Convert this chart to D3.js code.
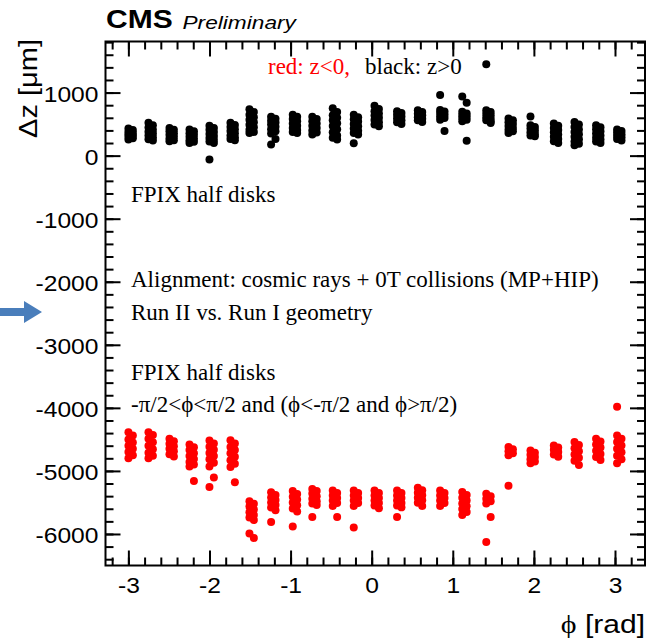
<!DOCTYPE html>
<html>
<head>
<meta charset="utf-8">
<script src="https://cdn.jsdelivr.net/npm/d3@7"></script>
<style>
html, body { margin: 0; padding: 0; background: #fff; }
svg { display: block; }
.axis line { stroke: #000; stroke-width: 2; }
.axis .domain { display: none; }
.sans { font-family: "Liberation Sans", Arial, sans-serif; }
.serif { font-family: "Liberation Serif", "Times New Roman", serif; }
</style>
</head>
<body>
<div id="chart"></div>
<script>
'use strict';

// tick labels
const xTicks = [-3, -2, -1, 0, 1, 2, 3];
const yTicks = [-6000, -5000, -4000, -3000, -2000, -1000, 0, 1000];

// each blade cluster: [phi (rad), dz left column (um), dz right column (um)]
const blackClusters = [
    [-2.972, [430, 380, 340, 300, 255], [405, 360, 320, 275]],
    [-2.725, [520, 445, 380, 320, 260], [480, 410, 350, 290, 238]],
    [-2.466, [440, 385, 330, 270, 228], [410, 355, 300, 245]],
    [-2.219, [415, 355, 300, 245, 200], [385, 330, 270, 220]],
    [-1.973, [472, 410, 345, 280, 225, -60], [440, 375, 310, 250, 200]],
    [-1.714, [520, 455, 390, 320, 265], [485, 420, 355, 290, 243]],
    [-1.480, [735, 650, 570, 490, 410, 360], [690, 610, 530, 450, 375]],
    [-1.213, [615, 555, 495, 420, 350, 175], [585, 525, 460, 385, 262]],
    [-0.946, [650, 580, 510, 440, 375], [615, 545, 475, 405, 360]],
    [-0.705, [615, 545, 475, 400, 335], [580, 510, 440, 365]],
    [-0.453, [750, 640, 560, 470, 370, 285], [690, 600, 515, 420, 320, 255]],
    [-0.194, [650, 575, 500, 430, 360, 197], [610, 540, 465, 395, 335]],
    [0.062, [792, 705, 635, 565, 495], [740, 670, 600, 530, 465]],
    [0.340, [705, 650, 590, 530], [675, 620, 560, 502]],
    [0.596, [720, 665, 610, 560], [690, 640, 585, 535]],
    [0.871, [963, 725, 675, 620, 570], [700, 650, 595, 392]],
    [1.144, [937, 695, 645, 595, 545], [840, 670, 620, 570, 235]],
    [1.440, [1451, 720, 665, 610, 560], [690, 640, 585, 540, 518]],
    [1.714, [588, 530, 470, 410, 360], [560, 500, 440, 385]],
    [1.985, [619, 482, 430, 370, 320], [455, 400, 345, 307]],
    [2.273, [510, 440, 370, 300, 230], [475, 405, 335, 265, 200]],
    [2.528, [535, 455, 375, 300, 225, 165], [495, 415, 340, 260, 190]],
    [2.794, [482, 420, 350, 285, 225], [450, 385, 320, 255, 200]],
    [3.053, [415, 365, 315, 262], [390, 340, 290, 238]]
];

const redClusters = [
    [-2.972, [-4385, -4500, -4600, -4700, -4800], [-4440, -4550, -4650, -4750]],
    [-2.725, [-4385, -4490, -4600, -4710, -4800], [-4430, -4545, -4655, -4760]],
    [-2.466, [-4490, -4570, -4650, -4735], [-4530, -4610, -4690, -4772]],
    [-2.219, [-4580, -4670, -4765, -4860, -4930], [-4625, -4720, -4810, -4900, -5159]],
    [-1.973, [-4518, -4615, -4715, -4815, -4930, -5254], [-4565, -4665, -4765, -4870, -5105]],
    [-1.714, [-4515, -4620, -4720, -4830, -4938], [-4565, -4670, -4775, -4885, -5179]],
    [-1.480, [-5480, -5565, -5655, -5740, -5994], [-5520, -5610, -5700, -5780, -6063]],
    [-1.213, [-5340, -5420, -5500, -5580, -5810], [-5380, -5460, -5540, -5622]],
    [-0.946, [-5320, -5410, -5500, -5595, -5880], [-5365, -5455, -5545, -5645]],
    [-0.705, [-5285, -5360, -5440, -5515, -5730], [-5320, -5400, -5480, -5540]],
    [-0.453, [-5312, -5390, -5470, -5555], [-5350, -5430, -5510, -5730]],
    [-0.194, [-5312, -5390, -5470, -5555, -5898], [-5350, -5430, -5510]],
    [0.062, [-5312, -5390, -5470, -5550], [-5350, -5430, -5510, -5593]],
    [0.340, [-5312, -5390, -5470, -5550, -5730], [-5350, -5430, -5510, -5578]],
    [0.596, [-5268, -5345, -5425, -5505], [-5305, -5385, -5465, -5555]],
    [0.871, [-5312, -5390, -5470, -5555], [-5350, -5430, -5510]],
    [1.144, [-5335, -5425, -5515, -5605, -5698], [-5380, -5470, -5560, -5650]],
    [1.440, [-5362, -5440, -5515, -6127], [-5400, -5480, -5730]],
    [1.714, [-4620, -4690, -4750, -5235], [-4655, -4720]],
    [1.985, [-4675, -4745, -4815, -4880], [-4710, -4780, -4850]],
    [2.273, [-4595, -4665, -4740], [-4630, -4700, -4775]],
    [2.528, [-4542, -4640, -4740, -4840], [-4590, -4690, -4790, -4905]],
    [2.794, [-4490, -4580, -4680, -4780], [-4535, -4630, -4730, -4825]],
    [3.053, [-3984, -4438, -4540, -4650, -4760, -4880], [-4490, -4595, -4705, -4815]]
];

const infoLines = [
    'Alignment: cosmic rays + 0T collisions (MP+HIP)',
    'Run II vs. Run I geometry'
];
const selectionLines = [
    'FPIX half disks',
    '-\u03c0/2<\u03d5<\u03c0/2 and (\u03d5<-\u03c0/2 and \u03d5>\u03c0/2)'
];

const width = 646,
      height = 643;
const frame = {'left': 105.5, 'right': 645, 'top': 41.5, 'bottom': 565.5};
const majorLen = 15,
      minorLen = 8,
      dotR = 4,
      colShift = 2.2,
      sansStretch = 1.12;

const svg = d3.select('#chart')
              .append('svg')
              .attr('width', width)
              .attr('height', height);

const x = d3.scaleLinear().domain([-3.282, 3.37]).range([frame.left, frame.right]);
const y = d3.scaleLinear().domain([-6500, 1810]).range([frame.bottom, frame.top]);

const xMinor = d3.range(-16, 17).map(function(i) { return i / 5; });
const yMinor = d3.range(-32, 10).map(function(i) { return i * 200; });

function plainLabel(d) {
    return String(d);
}

function addAxis(axisFn, scale, values, len, transform, withLabels) {
    let axis = axisFn(scale).tickValues(values).tickSizeInner(-len).tickSizeOuter(0);
    axis.tickFormat(withLabels ? plainLabel : '');
    return svg.append('g')
              .attr('class', 'axis')
              .attr('transform', transform)
              .call(axis);
}

// minor ticks on all four sides
addAxis(d3.axisBottom, x, xMinor, minorLen, 'translate(0,' + frame.bottom + ')', false);
addAxis(d3.axisTop, x, xMinor, minorLen, 'translate(0,' + frame.top + ')', false);
addAxis(d3.axisLeft, y, yMinor, minorLen, 'translate(' + frame.left + ',0)', false);
addAxis(d3.axisRight, y, yMinor, minorLen, 'translate(' + frame.right + ',0)', false);

// major ticks
let xAxis = addAxis(d3.axisBottom, x, xTicks, majorLen, 'translate(0,' + frame.bottom + ')', true);
addAxis(d3.axisTop, x, xTicks, majorLen, 'translate(0,' + frame.top + ')', false);
let yAxis = addAxis(d3.axisLeft, y, yTicks, majorLen, 'translate(' + frame.left + ',0)', true);
addAxis(d3.axisRight, y, yTicks, majorLen, 'translate(' + frame.right + ',0)', false);

xAxis.selectAll('text')
     .attr('class', 'sans')
     .attr('font-size', 22)
     .attr('fill', '#000')
     .attr('y', null)
     .attr('dy', null)
     .attr('transform', 'translate(0,27.5) scale(' + sansStretch + ',1)');

yAxis.selectAll('text')
     .attr('class', 'sans')
     .attr('font-size', 22)
     .attr('fill', '#000')
     .attr('x', null)
     .attr('dy', '0.4em')
     .attr('transform', 'translate(-7,0) scale(' + sansStretch + ',1)');

// frame
svg.append('rect')
   .attr('x', frame.left)
   .attr('y', frame.top)
   .attr('width', frame.right - frame.left)
   .attr('height', frame.bottom - frame.top)
   .attr('fill', 'none')
   .attr('stroke', '#000')
   .attr('stroke-width', 2);

function toPoints(clusters) {
    let pts = [];
    clusters.forEach(function(c) {
        c[1].forEach(function(v) { pts.push({'phi': c[0], 'dz': v, 'side': -1}); });
        c[2].forEach(function(v) { pts.push({'phi': c[0], 'dz': v, 'side': 1}); });
    });
    return pts;
}

function drawPoints(clusters, color) {
    svg.append('g')
       .selectAll('circle')
       .data(toPoints(clusters))
       .enter()
       .append('circle')
       .attr('cx', function(d) { return x(d.phi) + d.side * colShift; })
       .attr('cy', function(d) { return y(d.dz); })
       .attr('r', dotR)
       .attr('fill', color);
}

drawPoints(blackClusters, '#000');
drawPoints(redClusters, '#ff0000');

// labels inside the frame
let legend = svg.append('text')
                .attr('class', 'serif')
                .attr('font-size', 23)
                .attr('y', 73.5);
legend.append('tspan').attr('x', 268).attr('fill', '#ff0000').text('red: z<0,');
legend.append('tspan').attr('x', 365).attr('fill', '#000').text('black: z>0');

svg.append('text')
   .attr('class', 'serif')
   .attr('font-size', 23)
   .attr('x', 131)
   .attr('y', 201.5)
   .text('FPIX half disks');

infoLines.forEach(function(t, i) {
    svg.append('text')
       .attr('class', 'serif')
       .attr('font-size', 23)
       .attr('x', 131)
       .attr('y', 286.5 + i * 33.5)
       .text(t);
});

selectionLines.forEach(function(t, i) {
    svg.append('text')
       .attr('class', 'serif')
       .attr('font-size', 23)
       .attr('x', 131)
       .attr('y', 380 + i * 31.5)
       .text(t);
});

// header
svg.append('text')
   .attr('class', 'sans')
   .attr('font-size', 25)
   .attr('font-weight', 'bold')
   .attr('transform', 'translate(106,28) scale(1.2,1)')
   .text('CMS');
svg.append('text')
   .attr('class', 'sans')
   .attr('font-size', 18)
   .attr('font-style', 'italic')
   .attr('transform', 'translate(182.5,29) scale(1.26,1)')
   .text('Preliminary');

// axis titles
svg.append('text')
   .attr('class', 'sans')
   .attr('font-size', 25)
   .attr('text-anchor', 'end')
   .attr('transform', 'translate(37,39) rotate(-90) scale(1.16,1)')
   .text('\u0394z [\u03bcm]');

let xTitle = svg.append('text')
                .attr('class', 'sans')
                .attr('font-size', 25)
                .attr('text-anchor', 'end')
                .attr('transform', 'translate(645,633) scale(1.2,1)');
xTitle.append('tspan').attr('class', 'serif').text('\u03d5');
xTitle.append('tspan').text(' [rad]');

// blue marker arrow on the left
let ay = y(-2480);
svg.append('path')
   .attr('d', 'M0,' + (ay - 4) + 'H24V' + (ay - 11) + 'L42,' + ay + 'L24,' + (ay + 11) + 'V' + (ay + 4) + 'H0Z')
   .attr('fill', '#4a7ebb');
</script>
</body>
</html>
